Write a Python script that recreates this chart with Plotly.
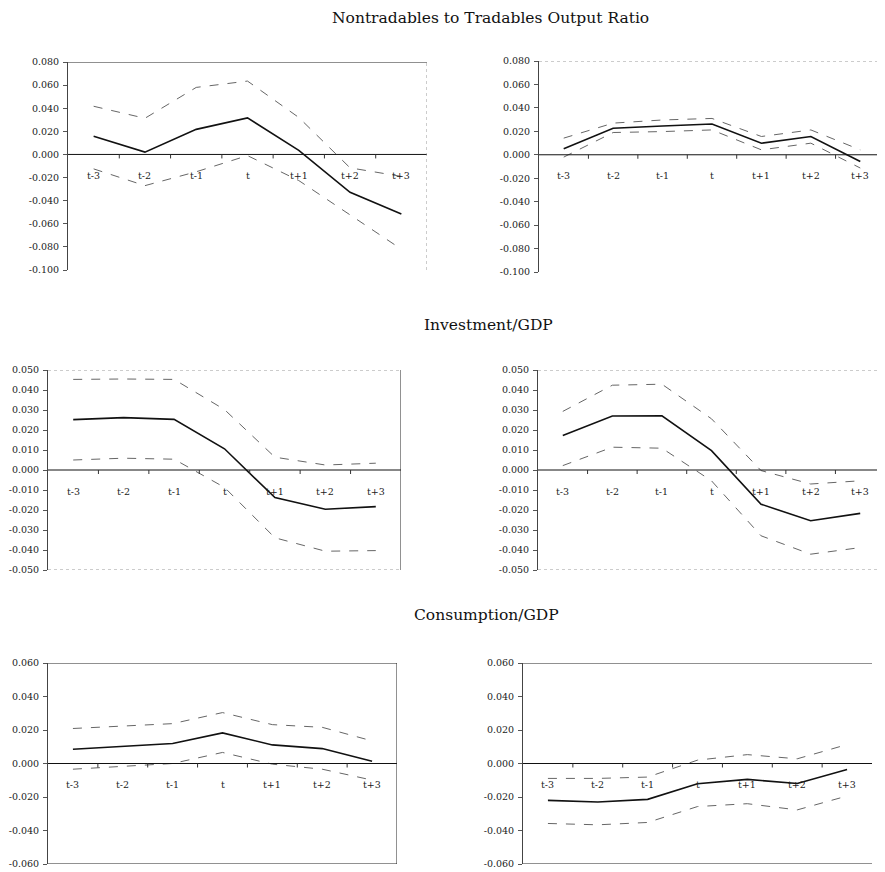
import plotly.graph_objects as go

W, H = 885, 872
OFF = 8  # page body margin offset
periods = ["t-3", "t-2", "t-1", "t", "t+1", "t+2", "t+3"]

# Nontradables to Tradables Output Ratio
ntr_a_mid = [0.0157, 0.0020, 0.0217, 0.0316, 0.0035, -0.0328, -0.0516]
ntr_a_up = [0.0417, 0.0313, 0.0580, 0.0635, 0.0320, -0.0116, -0.0190]
ntr_a_lo = [-0.0125, -0.0270, -0.0150, -0.0010, -0.0226, -0.0525, -0.0820]
ntr_b_mid = [0.0051, 0.0227, 0.0246, 0.0263, 0.0099, 0.0156, -0.0057]
ntr_b_up = [0.0142, 0.0270, 0.0297, 0.0310, 0.0156, 0.0212, 0.0042]
ntr_b_lo = [-0.0020, 0.0190, 0.0198, 0.0212, 0.0042, 0.0099, -0.0113]
# Investment/GDP
inv_a_mid = [0.0252, 0.0262, 0.0253, 0.0106, -0.0138, -0.0196, -0.0183]
inv_a_up = [0.0453, 0.0455, 0.0453, 0.0302, 0.0064, 0.0025, 0.0034]
inv_a_lo = [0.0050, 0.0059, 0.0054, -0.0087, -0.0339, -0.0406, -0.0403]
inv_b_mid = [0.0172, 0.0270, 0.0271, 0.0097, -0.0171, -0.0254, -0.0217]
inv_b_up = [0.0293, 0.0424, 0.0429, 0.0256, -0.0003, -0.0070, -0.0054]
inv_b_lo = [0.0022, 0.0114, 0.0109, -0.0054, -0.0329, -0.0421, -0.0388]
# Consumption/GDP
con_a_mid = [0.0085, 0.0103, 0.0119, 0.0183, 0.0111, 0.0089, 0.0014]
con_a_up = [0.0209, 0.0222, 0.0238, 0.0304, 0.0232, 0.0216, 0.0135]
con_a_lo = [-0.0034, -0.0016, 0.0000, 0.0066, -0.0004, -0.0034, -0.0099]
con_b_mid = [-0.0220, -0.0230, -0.0214, -0.0121, -0.0095, -0.0119, -0.0036]
con_b_up = [-0.0089, -0.0089, -0.0081, 0.0020, 0.0053, 0.0028, 0.0113]
con_b_lo = [-0.0358, -0.0366, -0.0352, -0.0257, -0.0240, -0.0277, -0.0194]

ticks_ntr = [0.08, 0.06, 0.04, 0.02, 0.0, -0.02, -0.04, -0.06, -0.08, -0.10]
ticks_inv = [0.05, 0.04, 0.03, 0.02, 0.01, 0.0, -0.01, -0.02, -0.03, -0.04, -0.05]
ticks_con = [0.06, 0.04, 0.02, 0.0, -0.02, -0.04, -0.06]

titles = ["Nontradables to Tradables Output Ratio", "Investment/GDP", "Consumption/GDP"]

# panel pixel boxes on the screen: (x0, x1, ytop, ybottom)
panels = [
    dict(box=(68, 427, 62, 270), rng=(-0.10, 0.08), ticks=ticks_ntr,
         data=(ntr_a_mid, ntr_a_up, ntr_a_lo), frame=dict(top="solid", right="dot")),
    dict(box=(539, 885, 61, 272), rng=(-0.10, 0.08), ticks=ticks_ntr,
         data=(ntr_b_mid, ntr_b_up, ntr_b_lo), frame=dict(top="dot")),
    dict(box=(48, 401, 370, 570), rng=(-0.05, 0.05), ticks=ticks_inv,
         data=(inv_a_mid, inv_a_up, inv_a_lo), frame=dict(top="dot", right="solid", bottom="dot")),
    dict(box=(538, 885, 370, 570), rng=(-0.05, 0.05), ticks=ticks_inv,
         data=(inv_b_mid, inv_b_up, inv_b_lo), frame=dict(top="dot", bottom="dot")),
    dict(box=(48, 397, 663, 864), rng=(-0.06, 0.06), ticks=ticks_con,
         data=(con_a_mid, con_a_up, con_a_lo), frame=dict(top="solid", right="solid", bottom="solid")),
    dict(box=(523, 872, 663, 864), rng=(-0.06, 0.06), ticks=ticks_con,
         data=(con_b_mid, con_b_up, con_b_lo), frame=dict(top="solid", bottom="solid")),
]

FONT = "DejaVu Serif, Liberation Serif, serif"
fig = go.Figure()
layout = dict(width=W, height=H, margin=dict(l=0, r=0, t=0, b=0, pad=0, autoexpand=False),
              plot_bgcolor="white", paper_bgcolor="white", showlegend=False,
              font=dict(family=FONT, size=10, color="#222"))
shapes, annotations = [], []


def px_x(v):
    return min(max((v - OFF) / W, 0.0), 1.0)


def px_y(v):
    return min(max(1 - (v - OFF) / H, 0.0), 1.0)


for i, p in enumerate(panels, start=1):
    x0, x1, yt, yb = p["box"]
    xa = "xaxis" if i == 1 else f"xaxis{i}"
    ya = "yaxis" if i == 1 else f"yaxis{i}"
    xr = "x" if i == 1 else f"x{i}"
    yr = "y" if i == 1 else f"y{i}"
    lo, hi = p["rng"]
    layout[xa] = dict(domain=[px_x(x0), px_x(x1)], anchor=yr, type="category",
                      categoryorder="array", categoryarray=periods, automargin=False,
                      range=[-0.5, 6.5], visible=False, fixedrange=True)
    layout[ya] = dict(domain=[px_y(yb), px_y(yt)], anchor=xr, range=[lo, hi],
                      tickvals=p["ticks"], ticktext=[f"{v:.3f}" for v in p["ticks"]],
                      showgrid=False, zeroline=False, showline=True, linecolor="#444",
                      linewidth=1, ticks="outside", ticklen=4, tickcolor="#555", automargin=False,
                      ticklabelstandoff=2,
                      tickfont=dict(family=FONT, size=9.5, color="#222"), fixedrange=True)
    mid, up, low = p["data"]
    fig.add_trace(go.Scatter(x=periods, y=up, xaxis=xr, yaxis=yr, mode="lines",
                             line=dict(color="#666", width=1, dash="dash")))
    fig.add_trace(go.Scatter(x=periods, y=low, xaxis=xr, yaxis=yr, mode="lines",
                             line=dict(color="#666", width=1, dash="dash")))
    fig.add_trace(go.Scatter(x=periods, y=mid, xaxis=xr, yaxis=yr, mode="lines",
                             line=dict(color="#111", width=1.6)))
    shapes.append(dict(type="line", xref=xr, yref=yr, x0=-0.5, x1=6.5, y0=0, y1=0,
                       line=dict(color="#111", width=1)))
    for k in range(1, 7):
        shapes.append(dict(type="line", xref=xr, yref=yr, ysizemode="pixel", yanchor=0,
                           x0=k - 0.5, x1=k - 0.5, y0=0, y1=-4,
                           line=dict(color="#333", width=1)))
    fr = p["frame"]
    for side, style in fr.items():
        col = "#222" if style == "solid" else "#999"
        dash = "solid" if style == "solid" else "dot"
        if side == "top":
            s = dict(x0=-0.5, x1=6.5, y0=hi, y1=hi)
        elif side == "bottom":
            s = dict(x0=-0.5, x1=6.5, y0=lo, y1=lo)
        else:
            s = dict(x0=6.5, x1=6.5, y0=lo, y1=hi)
        s.update(type="line", xref=xr, yref=yr, line=dict(color=col, width=1, dash=dash))
        shapes.append(s)
    for c in periods:
        annotations.append(dict(x=c, y=0, xref=xr, yref=yr, text=c, showarrow=False,
                                yshift=-21, yanchor="middle", xanchor="center",
                                font=dict(family=FONT, size=9.5, color="#222")))

title_pos = [(490, 18), (488, 325), (486, 615)]
for t, (tx, ty) in zip(titles, title_pos):
    annotations.append(dict(x=px_x(tx), y=px_y(ty), xref="paper", yref="paper", text=t,
                            showarrow=False, xanchor="center", yanchor="middle",
                            font=dict(family=FONT, size=15.5, color="#111")))

layout["shapes"] = shapes
layout["annotations"] = annotations
fig.update_layout(**layout)
fig.write_html("out.html")
